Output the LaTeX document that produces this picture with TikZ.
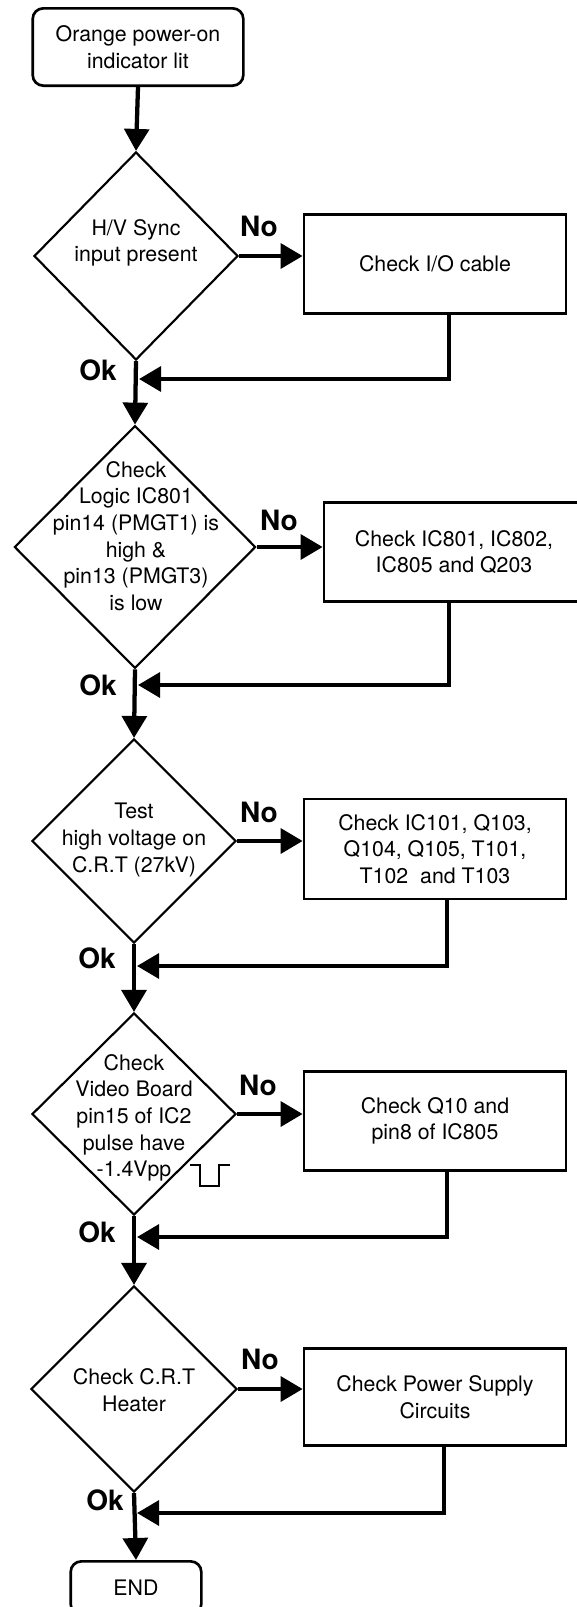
\documentclass[tikz,border=0pt]{standalone}
\usepackage{fontspec}
\setmainfont{TeX Gyre Heros}
\usetikzlibrary{shapes.geometric,arrows.meta,calc}
\newcommand{\flowtxt}{\fontsize{16}{20}\selectfont}
\newcommand{\flowlab}{\fontsize{21}{24}\selectfont\bfseries}
\begin{document}
\begin{tikzpicture}[x=0.75pt,y=-0.75pt,
  conn/.style={line width=3.2pt, -{Triangle[length=16.5pt,width=18.5pt]}},
  dia/.style={draw, shape=diamond, line width=1.6pt, inner sep=0pt},
  box/.style={draw, rectangle, line width=2pt, align=center, font=\flowtxt},
  term/.style={box, rounded corners=8pt},
  dtext/.style={align=center, font=\flowtxt, inner sep=0pt},
  lab/.style={font=\flowlab, inner sep=0pt}]
\useasboundingbox (0,0) rectangle (576,1607);

% start
\node[term, minimum width=158pt, minimum height=58pt] (start) at (138,47) {Orange power-on\\indicator lit};

% decision 1
\node[dia, minimum width=153pt, minimum height=156pt] (d1) at (136,256) {};
\node[dtext] (t1) at (136,243) {H/V Sync\\input present};
\node[box, minimum width=196.5pt, minimum height=74pt] (b1) at (435,264) {Check I/O cable};
\node[lab] (no1) at (259,226) {No};
\node[lab] (ok1) at (98,370) {Ok};
\coordinate (j1) at (139,379);

% decision 2
\node[dia, minimum width=181pt, minimum height=182pt] (d2) at (135,547) {};
\node[dtext] (t2) at (136,536) {Check\\Logic IC801\\pin14 (PMGT1) is\\high \&\\pin13 (PMGT3)\\is low};
\node[box, minimum width=195pt, minimum height=74pt] (b2) at (454,552) {Check IC801, IC802,\\IC805 and Q203};
\node[lab] (no2) at (279,520) {No};
\node[lab] (ok2) at (98,685) {Ok};
\coordinate (j2) at (138,685);

% decision 3
\node[dia, minimum width=153pt, minimum height=153pt] (d3) at (134,841) {};
\node[dtext] (t3) at (134,840) {Test\\high voltage on\\C.R.T (27kV)};
\node[box, minimum width=196.5pt, minimum height=75pt] (b3) at (435,849) {Check IC101, Q103,\\Q104, Q105, T101,\\T102\ \ and T103};
\node[lab] (no3) at (259,812) {No};
\node[lab] (ok3) at (97,958) {Ok};
\coordinate (j3) at (137,966);

% decision 4
\node[dia, minimum width=153pt, minimum height=151.5pt] (d4) at (134,1114) {};
\node[dtext] (t4) at (134,1118) {Check\\Video Board\\pin15 of IC2\\pulse have\\-1.4Vpp};
\node[box, minimum width=196.5pt, minimum height=74.25pt] (b4) at (435,1121) {Check Q10 and\\pin8 of IC805};
\node[lab] (no4) at (258,1085) {No};
\node[lab] (ok4) at (97,1232) {Ok};
\coordinate (j4) at (137,1237);
\draw[line width=0.9pt] (190,1165) -- (200,1165) -- (200,1186) -- (219,1186) -- (219,1165) -- (230,1165);

% decision 5
\node[dia, minimum width=154.5pt, minimum height=154.5pt] (d5) at (134,1389) {};
\node[dtext] (t5) at (134,1390) {Check C.R.T\\Heater};
\node[box, minimum width=196.5pt, minimum height=72.75pt] (b5) at (435,1397) {Check Power Supply\\Circuits};
\node[lab] (no5) at (260,1359) {No};
\node[lab] (ok5) at (105,1500) {Ok};
\coordinate (j5) at (137,1513);

% end
\node[term, minimum width=98pt, minimum height=40pt] (endn) at (136,1588) {END};

% main axis
\draw[conn] (start.south) -- (d1.north);
\draw[conn] (d1.south) -- (d2.north);
\draw[conn] (d2.south) -- (d3.north);
\draw[conn] (d3.south) -- (d4.north);
\draw[conn] (d4.south) -- (d5.north);
\draw[conn] (d5.south) -- (endn.north);

% no branches
\draw[conn] (d1.east) -- (d1.east -| b1.west);
\draw[conn] (d2.east) -- (d2.east -| b2.west);
\draw[conn] (d3.east) -- (d3.east -| b3.west);
\draw[conn] (d4.east) -- (d4.east -| b4.west);
\draw[conn] (d5.east) -- (d5.east -| b5.west);

% returns
\draw[conn] ($(b1.south)+(14,0)$) |- (j1);
\draw[conn] ($(b2.south)+(-5,0)$) |- (j2);
\draw[conn] ($(b3.south)+(12,0)$) |- (j3);
\draw[conn] ($(b4.south)+(12,0)$) |- (j4);
\draw[conn] ($(b5.south)+(9,0)$) |- (j5);
\end{tikzpicture}
\end{document}
